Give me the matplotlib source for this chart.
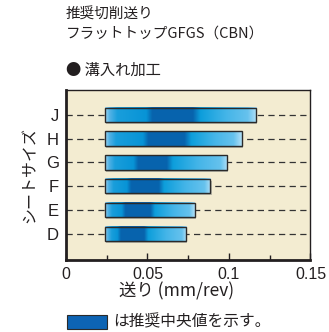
import numpy as np
import matplotlib
matplotlib.use("Agg")
import matplotlib.pyplot as plt
from matplotlib.patches import Rectangle

JP = ["Noto Sans CJK JP", "DejaVu Sans"]
LAT = ["Liberation Sans", "DejaVu Sans"]

# Recommended feed range per insert size (mm/rev)
sizes = ["D", "E", "F", "G", "H", "J"]
feed_min = [0.0238, 0.0238, 0.0238, 0.0238, 0.0238, 0.0238]
feed_max = [0.0737, 0.0790, 0.0886, 0.0988, 0.1078, 0.1166]
# Recommended centre band (dark part of each bar)
center_lo = [0.0324, 0.0352, 0.0385, 0.0426, 0.0487, 0.0508]
center_hi = [0.0487, 0.0528, 0.0580, 0.0630, 0.0743, 0.0794]

xticks = [0, 0.05, 0.1, 0.15]
xtick_labels = ["0", "0.05", "0.1", "0.15"]

BG = "#f3ecd1"
DARK = "#231f20"

fig = plt.figure(figsize=(3.29, 3.32), dpi=100)
ax = fig.add_axes([0.2006, 0.2169, 0.743, 0.512])
ax.set_facecolor(BG)

ypos = np.arange(len(sizes))
bar_h = 0.61


def bar_colors(x, s, e, lo, hi):
    w = e - s
    stops = [s, s + 0.03 * w, s + 0.08 * w, lo - 0.02 * w, lo + 0.02 * w,
             hi - 0.02 * w, hi + 0.03 * w, (hi + e) / 2, e - 0.06 * w, e]
    cols = np.array([
        (0.62, 0.84, 0.95),
        (0.33, 0.70, 0.90),
        (0.10, 0.62, 0.86),
        (0.03, 0.58, 0.84),
        (0.03, 0.39, 0.68),
        (0.03, 0.39, 0.68),
        (0.05, 0.62, 0.86),
        (0.27, 0.71, 0.91),
        (0.40, 0.76, 0.93),
        (0.70, 0.88, 0.97),
    ])
    return np.stack([np.interp(x, stops, cols[:, k]) for k in range(3)], axis=-1)


for y, s, e, lo, hi in zip(ypos, feed_min, feed_max, center_lo, center_hi):
    # dashed guide line behind each bar
    ax.plot([0, 0.15], [y, y], color="#333333", lw=0.9, ls=(0, (5, 3.5)), zorder=1)
    # soft shadow
    ax.add_patch(Rectangle((s + 0.0008, y - bar_h / 2 - 0.08), e - s, bar_h,
                           facecolor="#b9b7a8", edgecolor="none", zorder=2))
    xs = np.linspace(s, e, 400)
    img = bar_colors(xs, s, e, lo, hi)[np.newaxis, :, :]
    ax.imshow(img, extent=[s, e, y - bar_h / 2, y + bar_h / 2], aspect="auto",
              interpolation="bilinear", zorder=3)
    ax.add_patch(Rectangle((s, y - bar_h / 2), e - s, bar_h, facecolor="none",
                           edgecolor="#2a2a2a", lw=1.0, zorder=4))

ax.set_xlim(0, 0.15)
ax.set_ylim(-1.1, 6.04)

ax.set_yticks(ypos)
ax.set_yticklabels(sizes, family=LAT, fontsize=12, color=DARK)
ax.tick_params(axis="y", length=0, pad=5)

ax.set_xticks(xticks)
ax.set_xticklabels(xtick_labels, family=LAT, fontsize=11.5, color=DARK)
ax.set_xticks([0.025, 0.075, 0.125], minor=True)
ax.tick_params(axis="x", which="major", direction="in", length=5, width=1.0, pad=5, colors=DARK)
ax.tick_params(axis="x", which="minor", direction="in", length=3.5, width=1.0, colors=DARK)

for side, lw in (("left", 2.0), ("bottom", 2.0), ("top", 1.0), ("right", 1.0)):
    ax.spines[side].set_linewidth(lw)
    ax.spines[side].set_color(DARK)

# Titles
fig.text(0.200, 0.955, "推奨切削送り", family=JP, fontsize=10.5, color=DARK, va="center")
fig.text(0.200, 0.900, "フラットトップGFGS（CBN）", family=JP, fontsize=10.5, color=DARK, va="center")
fig.text(0.200, 0.789, "● 溝入れ加工", family=JP, fontsize=11, color=DARK, va="center")

# Axis labels
fig.text(0.091, 0.473, "シートサイズ", family=JP, fontsize=11.5, color=DARK,
         rotation=90, ha="center", va="center")
fig.text(0.537, 0.121, "送り (mm/rev)", family=JP, fontsize=12.5, color=DARK,
         ha="center", va="center")

# Key for the centre value
fig.patches.append(Rectangle((0.2036, 0.009), 0.1216, 0.042, transform=fig.transFigure,
                             facecolor="#0d64b4", edgecolor="#2a2a2a", lw=0.8))
fig.text(0.345, 0.030, "は推奨中央値を示す。", family=JP, fontsize=11.3, color=DARK, va="center")

fig.savefig("out.png", dpi=100, facecolor="white")
